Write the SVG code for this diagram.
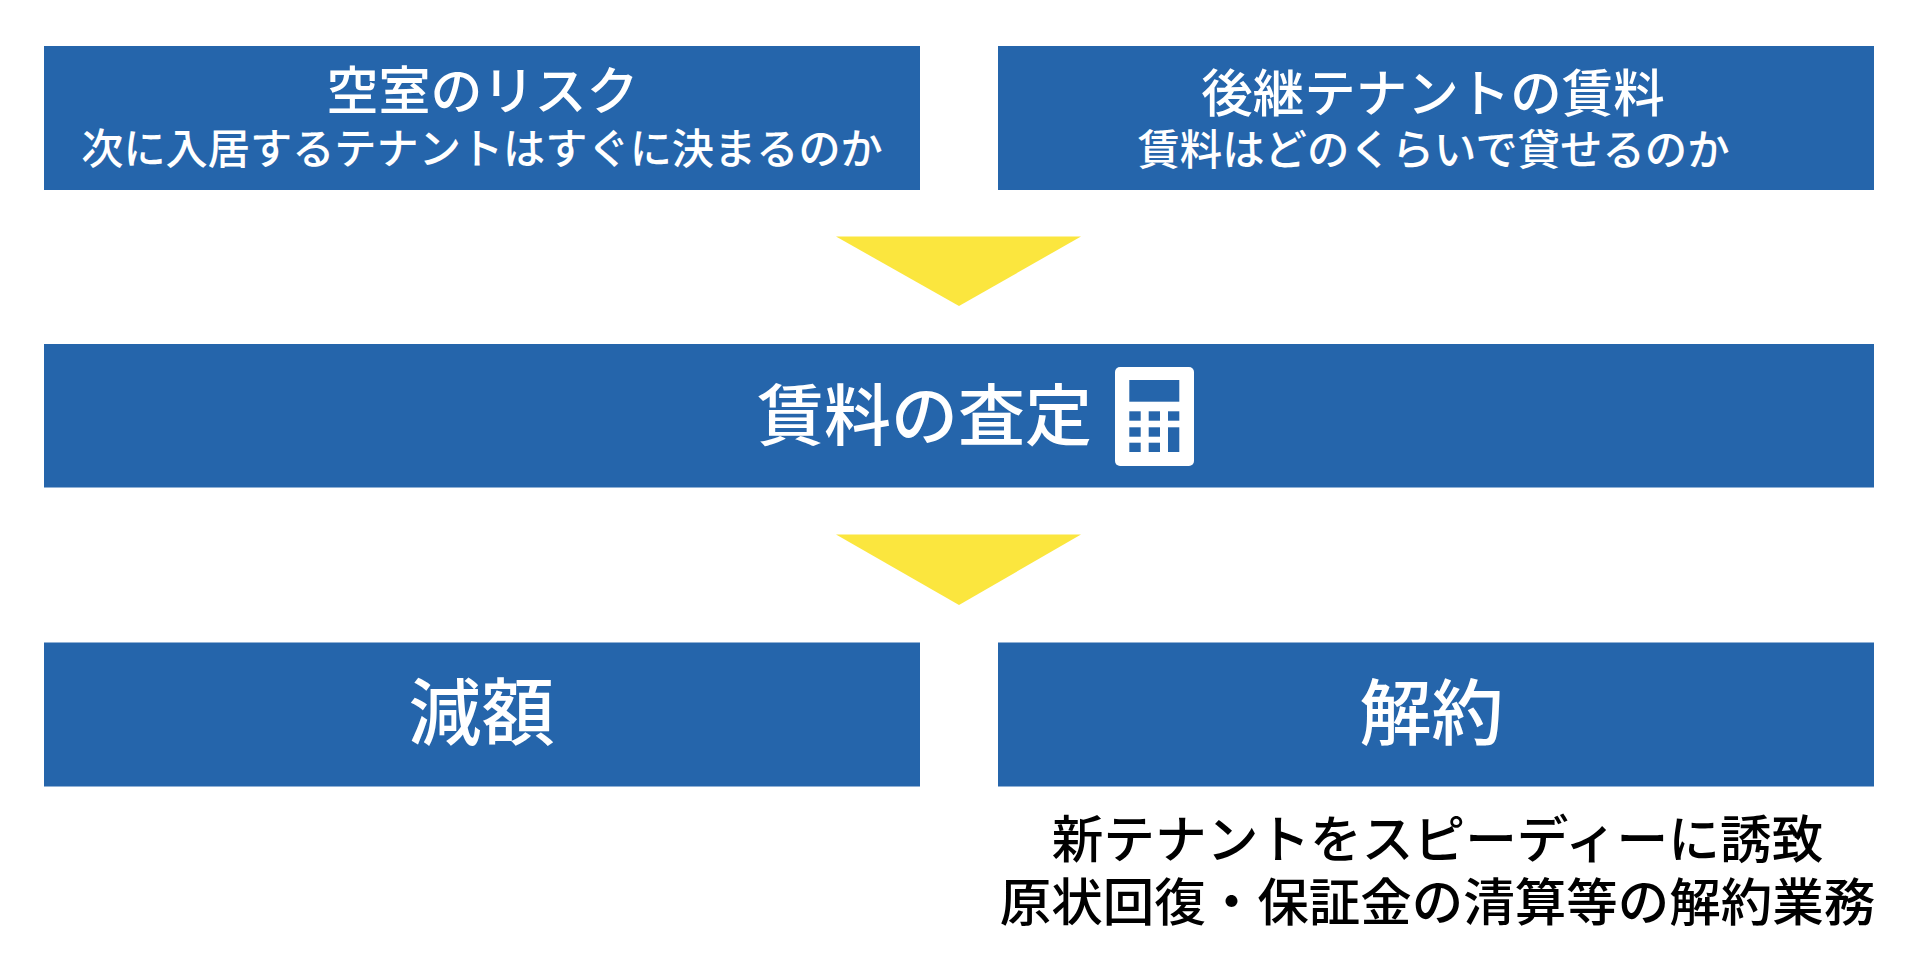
<svg xmlns="http://www.w3.org/2000/svg" width="1920" height="974" viewBox="0 0 1920 974">
<style>
.box{fill:#2565ab}
.tri{fill:#fbe63e}
text{font-family:"Noto Sans CJK JP","Noto Sans CJK SC",sans-serif;text-anchor:middle;font-weight:500}
.w{fill:#fff}
.k{fill:#000}
.ic{fill:#2565ab}
</style>
<rect width="1920" height="974" fill="#fff"/>
<g id="connectors">
<polygon class="tri" points="836,236.5 1081,236.5 959,306"/>
<polygon class="tri" points="836,534.5 1081,534.5 959,605"/>
</g>
<g id="node-vacancy">
<rect class="box" x="44" y="46" width="876" height="144"/>
<text class="w" x="482.5" y="110" font-size="52">空室のリスク</text>
<text class="w" x="482" y="164" font-size="42.2">次に入居するテナントはすぐに決まるのか</text>
</g>
<g id="node-successor">
<rect class="box" x="998" y="46" width="876" height="144"/>
<text class="w" x="1433" y="112" font-size="51.5">後継テナントの賃料</text>
<text class="w" x="1433.5" y="165" font-size="42.4">賃料はどのくらいで貸せるのか</text>
</g>
<g id="node-assessment">
<rect class="box" x="44" y="344" width="1830" height="143.5"/>
<text class="w" x="924.5" y="440" font-size="67">賃料の査定</text>
<g id="calculator-icon">
<rect x="1115" y="367" width="79" height="99" rx="5" fill="#fff"/>
<rect class="ic" x="1129.3" y="380" width="50" height="21.7"/>
<rect class="ic" x="1129.3" y="411.3" width="11.4" height="9.4"/>
<rect class="ic" x="1148.7" y="411.3" width="11.3" height="9.4"/>
<rect class="ic" x="1168" y="411.3" width="11.3" height="9.4"/>
<rect class="ic" x="1129.3" y="427.3" width="11.4" height="9.4"/>
<rect class="ic" x="1148.7" y="427.3" width="11.3" height="9.4"/>
<rect class="ic" x="1168" y="427.3" width="11.3" height="24.7"/>
<rect class="ic" x="1129.3" y="442.7" width="11.4" height="9.3"/>
<rect class="ic" x="1148.7" y="442.7" width="11.3" height="9.3"/>
</g>
</g>
<g id="node-reduction">
<rect class="box" x="44" y="642.5" width="876" height="144"/>
<text class="w" x="481.5" y="739" font-size="73">減額</text>
</g>
<g id="node-cancel">
<rect class="box" x="998" y="642.5" width="876" height="144"/>
<text class="w" x="1431.5" y="739" font-size="72">解約</text>
</g>
<g id="note-cancel">
<text class="k" x="1437.5" y="858" font-size="51.7">新テナントをスピーディーに誘致</text>
<text class="k" x="1437.5" y="921" font-size="51.5">原状回復・保証金の清算等の解約業務</text>
</g>
</svg>
